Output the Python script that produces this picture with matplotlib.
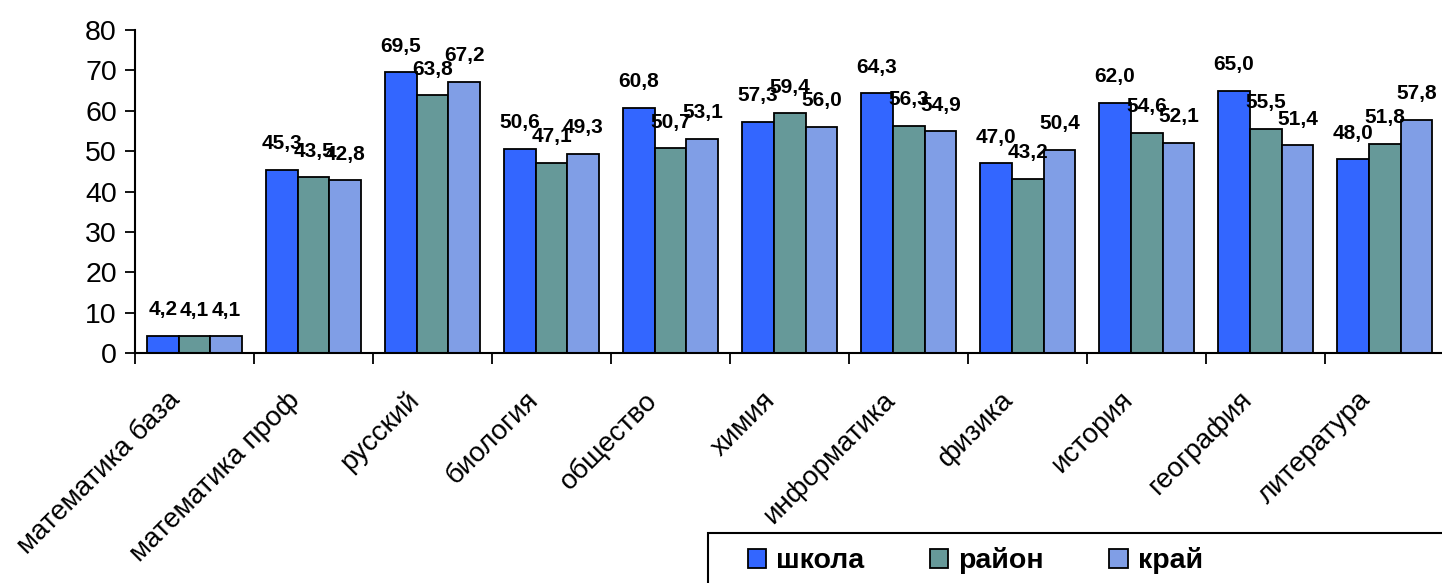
import numpy as np
import matplotlib
matplotlib.use("Agg")
import matplotlib.pyplot as plt
import matplotlib.transforms as mtransforms
from matplotlib.patches import Rectangle

plt.rcParams['font.family'] = ['Liberation Sans', 'DejaVu Sans']

subjects = ["математика база", "математика проф", "русский", "биология", "общество",
            "химия", "информатика", "физика", "история", "география", "литература"]
school = [4.2, 45.3, 69.5, 50.6, 60.8, 57.3, 64.3, 47.0, 62.0, 65.0, 48.0]
district = [4.1, 43.5, 63.8, 47.1, 50.7, 59.4, 56.3, 43.2, 54.6, 55.5, 51.8]
region = [4.1, 42.8, 67.2, 49.3, 53.1, 56.0, 54.9, 50.4, 52.1, 51.4, 57.8]
series_names = ["школа", "район", "край"]
colors = ["#3366FF", "#669999", "#809EE6"]

fig = plt.figure(figsize=(14.42, 5.83), dpi=100)
ax = fig.add_axes([0.0936, 0.3945, 0.908, 0.554])

x = np.arange(len(subjects))
w = 0.267
for i, (vals, name, c) in enumerate(zip([school, district, region], series_names, colors)):
    pos = x + (i - 1) * w
    bars = ax.bar(pos, vals, width=w, color=c, edgecolor="black", linewidth=1.3, label=name)
    for b, v in zip(bars, vals):
        ax.annotate(f"{v:.1f}".replace(".", ","),
                    (b.get_x() + b.get_width() / 2, v),
                    xytext=(0, 12), textcoords="offset points",
                    ha="center", va="bottom", fontsize=15, fontweight="bold")

ax.set_xlim(-0.5, len(subjects) - 0.5)
ax.set_ylim(0, 80)
ax.set_yticks(range(0, 81, 10))
ax.tick_params(axis="y", labelsize=20.5, length=7, width=1.3, direction="out", pad=6)

ax.set_xticks(np.arange(len(subjects) + 1) - 0.5, minor=False)
ax.set_xticklabels([])
ax.tick_params(axis="x", length=8, width=1.3, direction="out")
ax.set_xticks(x, minor=True)
ax.set_xticklabels(subjects, minor=True, rotation=45, ha="right", rotation_mode="anchor",
                   fontsize=20)
ax.tick_params(axis="x", which="minor", length=0, pad=24.5)
shift = mtransforms.ScaledTranslation(-0.27, 0, fig.dpi_scale_trans)
for lab in ax.get_xticklabels(minor=True):
    lab.set_transform(lab.get_transform() + shift)

for s in ["top", "right"]:
    ax.spines[s].set_visible(False)
for s in ["left", "bottom"]:
    ax.spines[s].set_linewidth(1.5)

# legend frame runs off the right and bottom edges, as in the original
fig.patches.append(Rectangle((708 / 1442, -0.05), 0.6, 0.05 + 50 / 583, transform=fig.transFigure,
                             fill=False, edgecolor="black", linewidth=1.5))
leg = fig.legend(loc="center left", bbox_to_anchor=(739 / 1442, 1 - 561 / 583), ncol=3,
                 prop={"weight": "bold", "size": 20.5}, frameon=False,
                 handlelength=0.65, handleheight=0.65, handletextpad=0.35, columnspacing=2.3,
                 borderpad=0.3, borderaxespad=0)
for h in leg.legend_handles:
    h.set_linewidth(1.3)

fig.savefig("out.png", dpi=100)
